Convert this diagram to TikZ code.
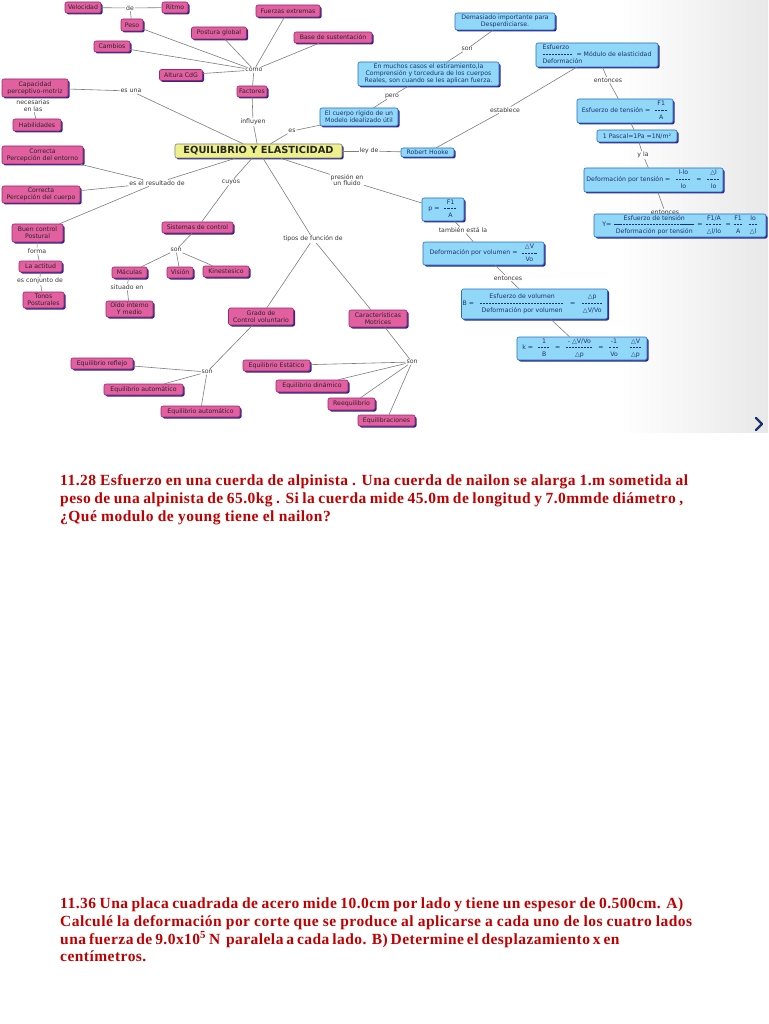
\documentclass[tikz,border=0pt]{standalone}
\usepackage{fontspec}
\setmainfont{DejaVu Sans}
\newfontfamily\probfont[LetterSpace=3]{Liberation Serif}
\usetikzlibrary{shadows}
\definecolor{pkfill}{RGB}{226,96,160}
\definecolor{pkdraw}{RGB}{150,40,110}
\definecolor{shd}{RGB}{50,40,140}
\definecolor{blfill}{RGB}{145,215,248}
\definecolor{bldraw}{RGB}{40,110,190}
\definecolor{mnfill}{RGB}{238,240,140}
\definecolor{edgec}{RGB}{125,125,125}
\definecolor{lblc}{RGB}{55,55,55}
\definecolor{probred}{RGB}{192,0,0}
\definecolor{navy}{RGB}{30,50,110}
\setlength{\tabcolsep}{2pt}
\renewcommand{\arraystretch}{0.95}
\newcommand\dlw[1]{\hbox to #1{\xleaders\hbox{\rule[0.6ex]{2.2pt}{0.4pt}\hskip0.7pt}\hfill}}
\tikzset{
 basebox/.style={rounded corners=2pt, line width=0.6pt, align=center, inner sep=1.2pt,
   font=\fontsize{6.2}{7}\selectfont,
   general shadow={fill=shd, shadow xshift=1.5pt, shadow yshift=-1.5pt}},
 pk/.style={basebox, fill=pkfill, draw=pkdraw, text=black!85},
 bl/.style={basebox, fill=blfill, draw=bldraw, text=navy},
 mn/.style={basebox, fill=mnfill, draw=black!50, text=black!85, font=\fontsize{9.8}{11}\selectfont\bfseries},
 lbl/.style={inner sep=0.8pt, text=lblc, align=center, font=\fontsize{6.2}{6.8}\selectfont},
 ln/.style={draw=edgec, line width=0.6pt},
 prob/.style={anchor=base west, inner sep=0, text=probred, font=\probfont\bfseries\fontsize{15.5}{18}\selectfont},
}
\begin{document}
\begin{tikzpicture}[x=1pt,y=-1pt]
\useasboundingbox (0,0) rectangle (768,1024);
\fill[white] (0,0) rectangle (768,1024);
\shade[left color=white, right color=black!9] (620,0) rectangle (768,432);
% chevron
\draw[navy, line width=2.4pt, line cap=round, line join=round] (756,418) -- (762,424) -- (756,430);

% top-left cluster
\node[pk, minimum width=36, minimum height=11] (vel) at (83,7.5) {Velocidad};
\node[pk, minimum width=26, minimum height=11] (rit) at (175,7.5) {Ritmo};
\node[lbl] (de) at (130,8) {de};
\node[pk, minimum width=22, minimum height=12] (peso) at (132,25) {Peso};
\node[pk, minimum width=36, minimum height=11] (camb) at (112,46.5) {Cambios};
\node[pk, minimum width=43, minimum height=11] (alt) at (181,75) {Altura CdG};
\node[pk, minimum width=55, minimum height=12] (post) at (219,33) {Postura global};
\node[pk, minimum width=64, minimum height=12] (fext) at (288,11) {Fuerzas extremas};
\node[pk, minimum width=78, minimum height=11] (bsus) at (333,37.5) {Base de sustentación};
\node[lbl] (como) at (254,70) {como};
\node[pk, minimum width=30, minimum height=11] (fact) at (252,91.5) {Factores};
\node[lbl] (infl) at (253,122) {influyen};
\node[pk, minimum width=66, minimum height=18] (cap) at (35,88) {Capacidad\\perceptivo-motriz};
\node[lbl] (esuna) at (131,91) {es una};
\node[lbl] (nec) at (33,105.5) {necesarias\\en las};
\node[pk, minimum width=48, minimum height=12] (hab) at (37,125) {Habilidades};

% main
\node[mn, minimum width=167, minimum height=14] (eq) at (258.5,151) {EQUILIBRIO Y ELASTICIDAD};

% blue upper
\node[lbl] (es) at (292,131) {es};
\node[bl, minimum width=78, minimum height=18] (rig) at (359,117) {El cuerpo rígido de un\\Modelo idealizado útil};
\node[lbl] (pero) at (392,96) {pero};
\node[bl, minimum width=141, minimum height=24] (much) at (428.5,74) {En muchos casos el estiramiento,la\\Comprensión y torcedura de los cuerpos\\Reales, son cuando se les aplican fuerza.};
\node[lbl] (son0) at (467,49) {son};
\node[bl, minimum width=100, minimum height=17] (dema) at (505,21.5) {Demasiado importante para\\Desperdiciarse.};
\node[lbl] (ley) at (369,151) {ley de};
\node[bl, minimum width=53, minimum height=9] (hook) at (427.5,152.5) {Robert Hooke};
\node[lbl] (estab) at (505,110) {establece};
\node[bl, minimum width=122, minimum height=24, align=left] (esf) at (597,55)
  {\begin{tabular}{@{}l@{}}Esfuerzo\\\dlw{30pt}\ \ = Módulo de elasticidad\\Deformación\end{tabular}};
\node[lbl] (ent1) at (608,80) {entonces};
\node[bl, minimum width=96, minimum height=24] (ten) at (625,111)
  {\begin{tabular}{@{}rc@{}}&F1\\Esfuerzo de tensión =&\dlw{14pt}\\&A\end{tabular}};
\node[bl, minimum width=80, minimum height=12] (pas) at (637,136) {1 Pascal=1Pa =1N/m²};
\node[lbl] (yla) at (643,155) {y la};
\node[bl, minimum width=139, minimum height=24] (dten) at (653.5,180)
  {\setlength{\tabcolsep}{2.5pt}\begin{tabular}{@{}rccc@{}}&l-lo&&△l\\Deformación por tensión =&\dlw{16pt}&=&\dlw{14pt}\\&lo&&lo\end{tabular}};
\node[lbl] (ent2) at (665,212) {entonces};
\node[bl, minimum width=172, minimum height=23] (you) at (680,225.5)
  {\setlength{\tabcolsep}{1.5pt}\begin{tabular}{@{}lccccccc@{}}&Esfuerzo de tensión&&F1/A&&F1&&lo\\Y=&\dlw{80pt}&=&\dlw{17pt}&=&\dlw{9pt}&&\dlw{9pt}\\&Deformación por tensión&&△l/lo&&A&&△l\end{tabular}};
\node[lbl] (pres) at (347,180) {presión en\\un fluido};
\node[bl, minimum width=42, minimum height=23] (p) at (443,209.5)
  {\begin{tabular}{@{}rc@{}}&F1\\p =&\dlw{14pt}\\&A\end{tabular}};
\node[lbl] (tamb) at (463,230) {también está la};
\node[bl, minimum width=121, minimum height=23] (dvol) at (483.5,253.5)
  {\begin{tabular}{@{}rc@{}}&△V\\Deformación por volumen =&\dlw{16pt}\\&Vo\end{tabular}};
\node[lbl] (ent3) at (508,278) {entonces};
\node[bl, minimum width=143, minimum height=30] (bmod) at (534.5,304)
  {\setlength{\tabcolsep}{3pt}\begin{tabular}{@{}rcccc@{}}&Esfuerzo de volumen&&△p\\B =&\dlw{84pt}&=&\dlw{22pt}\\&Deformación por volumen&&△V/Vo\end{tabular}};
\node[bl, minimum width=130, minimum height=23] (kmod) at (582,348.5)
  {\setlength{\tabcolsep}{2.5pt}\begin{tabular}{@{}rccccccc@{}}&1&&- △V/Vo&&-1&&△V\\k =&\dlw{12pt}&=&\dlw{28pt}&=&\dlw{11pt}&&\dlw{12pt}\\&B&&△p&&Vo&&△p\end{tabular}};

% left
\node[lbl] (res) at (157,183) {es el resultado de};
\node[pk, minimum width=81, minimum height=18] (ento) at (42.5,155) {Correcta\\Percepción del entorno};
\node[pk, minimum width=78, minimum height=17] (cuer) at (41,194.5) {Correcta\\Percepción del cuerpo};
\node[pk, minimum width=51, minimum height=18] (buen) at (37.5,233) {Buen control\\Postural};
\node[lbl] (forma) at (37,251) {forma};
\node[pk, minimum width=43, minimum height=11] (act) at (40.5,266.5) {La actitud};
\node[lbl] (conj) at (40,281) {es conjunto de};
\node[pk, minimum width=41, minimum height=16] (tono) at (43.5,300) {Tonos\\Posturales};
\node[lbl] (cuyos) at (231,182) {cuyos};
\node[pk, minimum width=71, minimum height=11] (sist) at (197.5,227.5) {Sistemas de control};
\node[lbl] (son1) at (176,250) {son};
\node[pk, minimum width=35, minimum height=11] (macu) at (129.5,272.5) {Máculas};
\node[pk, minimum width=26, minimum height=11] (vis) at (180,272.5) {Visión};
\node[pk, minimum width=46, minimum height=11] (kin) at (226,271.5) {Kinestesico};
\node[lbl] (sit) at (127,287) {situado en};
\node[pk, minimum width=47, minimum height=16] (oido) at (129.5,309) {Oído interno\\Y medio};
\node[lbl] (tipos) at (313,239) {tipos de función de};
\node[pk, minimum width=65, minimum height=17] (grado) at (261,316.5) {Grado de\\Control voluntario};
\node[pk, minimum width=58, minimum height=17] (carac) at (378,318.5) {Características\\Motrices};
\node[lbl] (son2) at (207,372) {son};
\node[pk, minimum width=62, minimum height=11] (erefl) at (102,363.5) {Equilibrio reflejo};
\node[pk, minimum width=79, minimum height=11] (eaut1) at (143.5,389.5) {Equilibrio automático};
\node[pk, minimum width=79, minimum height=11] (eaut2) at (200.5,411.5) {Equilibrio automático};
\node[lbl] (son3) at (412,362) {son};
\node[pk, minimum width=67, minimum height=11] (eest) at (276.5,365.5) {Equilibrio Estático};
\node[pk, minimum width=72, minimum height=12] (edin) at (312,386) {Equilibrio dinámico};
\node[pk, minimum width=47, minimum height=12] (reeq) at (351.5,404) {Reequilibrio};
\node[pk, minimum width=57, minimum height=11] (eqbr) at (386.5,420.5) {Equilibraciones};

\foreach \a/\b in {vel/de, de/rit, de/peso, peso/como, camb/como, alt/como, post/como, fext/como, bsus/como, como/fact, fact/infl, infl/eq, cap/esuna, esuna/eq, cap/nec, nec/hab, eq/es, es/rig, rig/pero, pero/much, much/son0, son0/dema, eq/ley, ley/hook, hook/estab, estab/esf, esf/ent1, ent1/ten, ten/pas, pas/yla, yla/dten, dten/ent2, ent2/you, eq/pres, pres/p, p/tamb, tamb/dvol, dvol/ent3, ent3/bmod, bmod/kmod, eq/res, res/ento, res/cuer, res/buen, buen/forma, forma/act, act/conj, conj/tono, eq/cuyos, cuyos/sist, sist/son1, son1/macu, son1/vis, son1/kin, macu/sit, sit/oido, eq/tipos, tipos/grado, tipos/carac, grado/son2, son2/erefl, son2/eaut1, son2/eaut2, carac/son3, son3/eest, son3/edin, son3/reeq, son3/eqbr}
  \draw[ln] (\a) -- (\b);

% problem texts
\node[prob] (a1) at (60,485) {\makebox[628pt][s]{11.28 Esfuerzo en una cuerda de alpinista . Una cuerda de nailon se alarga 1.m sometida al}};
\node[prob] (a2) at (60,503) {\makebox[623pt][s]{peso de una alpinista de 65.0kg . Si la cuerda mide 45.0m de longitud y 7.0mmde diámetro ,}};
\node[prob] (a3) at (60,521) {¿Qué modulo de young tiene el nailon?};
\node[prob] (b1) at (60,908) {\makebox[623pt][s]{11.36 Una placa cuadrada de acero mide 10.0cm por lado y tiene un espesor de 0.500cm. A)}};
\node[prob] (b2) at (60,926) {\makebox[632pt][s]{Calculé la deformación por corte que se produce al aplicarse a cada uno de los cuatro lados}};
\node[prob] (b3) at (60,944) {\makebox[517pt][s]{una fuerza de 9.0x10\textsuperscript{5} N\ \ paralela a cada lado. B) Determine el desplazamiento x en}};
\node[prob] (b4) at (60,961) {centímetros.};
\end{tikzpicture}
\end{document}
